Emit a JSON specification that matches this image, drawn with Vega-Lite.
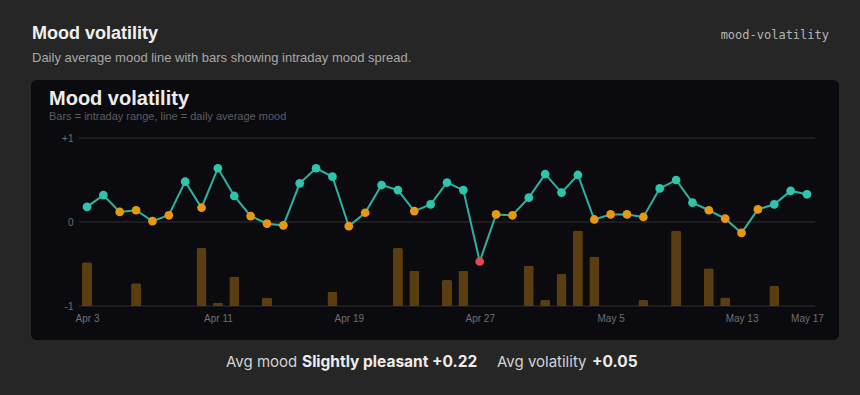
{
  "$schema": "https://vega.github.io/schema/vega-lite/v6.json",
  "width": 808,
  "height": 260,
  "autosize": {"type": "none"},
  "padding": {"left": 31, "top": 80, "right": 21, "bottom": 55},
  "background": "#262626",
  "config": {
    "view": {"fill": "#0b0b0f", "stroke": null, "cornerRadius": 6},
    "font": "Liberation Sans"
  },
  "datasets": {
    "days": [
      {"date": "2025-04-03", "mood": 0.18, "tone": "pleasant", "spread": 0.52},
      {"date": "2025-04-04", "mood": 0.32, "tone": "pleasant", "spread": null},
      {"date": "2025-04-05", "mood": 0.12, "tone": "neutral", "spread": null},
      {"date": "2025-04-06", "mood": 0.14, "tone": "neutral", "spread": 0.27},
      {"date": "2025-04-07", "mood": 0.01, "tone": "neutral", "spread": null},
      {"date": "2025-04-08", "mood": 0.08, "tone": "neutral", "spread": null},
      {"date": "2025-04-09", "mood": 0.48, "tone": "pleasant", "spread": null},
      {"date": "2025-04-10", "mood": 0.17, "tone": "neutral", "spread": 0.69},
      {"date": "2025-04-11", "mood": 0.64, "tone": "pleasant", "spread": 0.04},
      {"date": "2025-04-12", "mood": 0.31, "tone": "pleasant", "spread": 0.35},
      {"date": "2025-04-13", "mood": 0.07, "tone": "neutral", "spread": null},
      {"date": "2025-04-14", "mood": -0.02, "tone": "neutral", "spread": 0.10},
      {"date": "2025-04-15", "mood": -0.04, "tone": "neutral", "spread": null},
      {"date": "2025-04-16", "mood": 0.46, "tone": "pleasant", "spread": null},
      {"date": "2025-04-17", "mood": 0.64, "tone": "pleasant", "spread": null},
      {"date": "2025-04-18", "mood": 0.54, "tone": "pleasant", "spread": 0.17},
      {"date": "2025-04-19", "mood": -0.05, "tone": "neutral", "spread": null},
      {"date": "2025-04-20", "mood": 0.11, "tone": "neutral", "spread": null},
      {"date": "2025-04-21", "mood": 0.44, "tone": "pleasant", "spread": null},
      {"date": "2025-04-22", "mood": 0.38, "tone": "pleasant", "spread": 0.69},
      {"date": "2025-04-23", "mood": 0.13, "tone": "neutral", "spread": 0.42},
      {"date": "2025-04-24", "mood": 0.21, "tone": "pleasant", "spread": null},
      {"date": "2025-04-25", "mood": 0.47, "tone": "pleasant", "spread": 0.31},
      {"date": "2025-04-26", "mood": 0.38, "tone": "pleasant", "spread": 0.42},
      {"date": "2025-04-27", "mood": -0.47, "tone": "unpleasant", "spread": null},
      {"date": "2025-04-28", "mood": 0.09, "tone": "neutral", "spread": null},
      {"date": "2025-04-29", "mood": 0.08, "tone": "neutral", "spread": null},
      {"date": "2025-04-30", "mood": 0.29, "tone": "pleasant", "spread": 0.48},
      {"date": "2025-05-01", "mood": 0.57, "tone": "pleasant", "spread": 0.07},
      {"date": "2025-05-02", "mood": 0.35, "tone": "pleasant", "spread": 0.38},
      {"date": "2025-05-03", "mood": 0.56, "tone": "pleasant", "spread": 0.90},
      {"date": "2025-05-04", "mood": 0.03, "tone": "neutral", "spread": 0.59},
      {"date": "2025-05-05", "mood": 0.09, "tone": "neutral", "spread": null},
      {"date": "2025-05-06", "mood": 0.09, "tone": "neutral", "spread": null},
      {"date": "2025-05-07", "mood": 0.06, "tone": "neutral", "spread": 0.07},
      {"date": "2025-05-08", "mood": 0.40, "tone": "pleasant", "spread": null},
      {"date": "2025-05-09", "mood": 0.50, "tone": "pleasant", "spread": 0.90},
      {"date": "2025-05-10", "mood": 0.23, "tone": "pleasant", "spread": null},
      {"date": "2025-05-11", "mood": 0.14, "tone": "neutral", "spread": 0.45},
      {"date": "2025-05-12", "mood": 0.04, "tone": "neutral", "spread": 0.10},
      {"date": "2025-05-13", "mood": -0.13, "tone": "neutral", "spread": null},
      {"date": "2025-05-14", "mood": 0.15, "tone": "neutral", "spread": null},
      {"date": "2025-05-15", "mood": 0.21, "tone": "pleasant", "spread": 0.24},
      {"date": "2025-05-16", "mood": 0.37, "tone": "pleasant", "spread": null},
      {"date": "2025-05-17", "mood": 0.33, "tone": "pleasant", "spread": null}
    ]
  },
  "data": {"name": "days"},
  "resolve": {"scale": {"y": "independent"}},
  "layer": [
    {
      "data": {"values": [{"g": -1}, {"g": 0}, {"g": 1}]},
      "mark": {"type": "rule", "color": "#232328", "strokeWidth": 1.5},
      "encoding": {
        "y": {"field": "g", "type": "quantitative", "scale": {"domain": [-1, 1], "range": [226, 58]}, "axis": null},
        "x": {"datum": {"year": 2025, "month": 4, "date": 2, "hours": 12, "utc": true}, "type": "temporal"},
        "x2": {"datum": {"year": 2025, "month": 5, "date": 17, "hours": 12, "utc": true}}
      }
    },
    {
      "mark": {"type": "bar", "size": 10, "color": "#5b3e10", "cornerRadiusTopLeft": 2, "cornerRadiusTopRight": 2},
      "encoding": {
        "x": {"field": "date", "type": "temporal"},
        "y": {"field": "spread", "type": "quantitative", "scale": {"domain": [0, 2], "range": [226, 58]}, "axis": null}
      }
    },
    {
      "mark": {"type": "line", "color": "#2bb3a0", "strokeWidth": 2},
      "encoding": {
        "x": {
          "field": "date",
          "type": "temporal",
          "scale": {
            "type": "utc",
            "padding": 0,
            "domain": [
              {"year": 2025, "month": 4, "date": 3, "utc": true},
              {"year": 2025, "month": 5, "date": 17, "utc": true}
            ],
            "range": [56, 776]
          },
          "axis": {
            "title": null,
            "values": [
              {"year": 2025, "month": 4, "date": 3, "utc": true},
              {"year": 2025, "month": 4, "date": 11, "utc": true},
              {"year": 2025, "month": 4, "date": 19, "utc": true},
              {"year": 2025, "month": 4, "date": 27, "utc": true},
              {"year": 2025, "month": 5, "date": 5, "utc": true},
              {"year": 2025, "month": 5, "date": 13, "utc": true},
              {"year": 2025, "month": 5, "date": 17, "utc": true}
            ],
            "labelExpr": "utcFormat(datum.value, '%b %-d')",
            "domain": false,
            "ticks": false,
            "grid": false,
            "labelColor": "#6e6e74",
            "labelFontSize": 10,
            "labelPadding": 7,
            "labelFlush": false,
            "labelOverlap": false,
            "offset": -34
          }
        },
        "y": {
          "field": "mood",
          "type": "quantitative",
          "scale": {"domain": [-1, 1], "range": [226, 58]},
          "axis": {
            "title": null,
            "values": [-1, 0, 1],
            "labelExpr": "datum.value > 0 ? '+' + datum.value : '' + datum.value",
            "domain": false,
            "ticks": false,
            "grid": false,
            "labelColor": "#6e6e74",
            "labelFontSize": 10,
            "labelPadding": 3,
            "offset": -45
          }
        }
      }
    },
    {
      "mark": {"type": "point", "filled": true, "size": 76, "opacity": 1},
      "encoding": {
        "x": {"field": "date", "type": "temporal"},
        "y": {"field": "mood", "type": "quantitative", "scale": {"domain": [-1, 1], "range": [226, 58]}, "axis": null},
        "color": {
          "field": "tone",
          "type": "nominal",
          "scale": {"domain": ["pleasant", "neutral", "unpleasant"], "range": ["#2ec4ad", "#e8980f", "#e5484d"]},
          "legend": null
        }
      }
    },
    {
      "data": {"values": [{}]},
      "mark": {"type": "text", "text": "Mood volatility", "font": "Liberation Sans", "fontSize": 18, "fontWeight": "bold", "color": "#f0f0f0", "align": "left", "baseline": "alphabetic"},
      "encoding": {"x": {"value": 1}, "y": {"value": -41}}
    },
    {
      "data": {"values": [{}]},
      "mark": {"type": "text", "text": "Daily average mood line with bars showing intraday mood spread.", "font": "Liberation Sans", "fontSize": 13, "color": "#a8a8a8", "align": "left", "baseline": "alphabetic"},
      "encoding": {"x": {"value": 1}, "y": {"value": -18}}
    },
    {
      "data": {"values": [{}]},
      "mark": {"type": "text", "text": "mood-volatility", "font": "DejaVu Sans Mono", "fontSize": 12, "color": "#b5b5b5", "align": "right", "baseline": "alphabetic"},
      "encoding": {"x": {"value": 798}, "y": {"value": -41}}
    },
    {
      "data": {"values": [{}]},
      "mark": {"type": "text", "text": "Mood volatility", "font": "Liberation Sans", "fontSize": 20, "fontWeight": "bold", "color": "#ececec", "align": "left", "baseline": "alphabetic"},
      "encoding": {"x": {"value": 18}, "y": {"value": 25}}
    },
    {
      "data": {"values": [{}]},
      "mark": {"type": "text", "text": "Bars = intraday range, line = daily average mood", "font": "Liberation Sans", "fontSize": 11, "color": "#5c5c62", "align": "left", "baseline": "alphabetic"},
      "encoding": {"x": {"value": 18}, "y": {"value": 40}}
    },
    {
      "data": {"values": [{}]},
      "mark": {"type": "text", "text": "Avg mood", "font": "Inter", "fontSize": 15, "color": "#d2d2d2", "align": "left", "baseline": "alphabetic"},
      "encoding": {"x": {"value": 195}, "y": {"value": 287}}
    },
    {
      "data": {"values": [{}]},
      "mark": {"type": "text", "text": "Slightly pleasant +0.22", "font": "Inter", "fontSize": 15.5, "fontWeight": "bold", "color": "#ececec", "align": "left", "baseline": "alphabetic"},
      "encoding": {"x": {"value": 271}, "y": {"value": 287}}
    },
    {
      "data": {"values": [{}]},
      "mark": {"type": "text", "text": "Avg volatility", "font": "Inter", "fontSize": 15, "color": "#d2d2d2", "align": "left", "baseline": "alphabetic"},
      "encoding": {"x": {"value": 466}, "y": {"value": 287}}
    },
    {
      "data": {"values": [{}]},
      "mark": {"type": "text", "text": "+0.05", "font": "Inter", "fontSize": 15.5, "fontWeight": "bold", "color": "#ececec", "align": "left", "baseline": "alphabetic"},
      "encoding": {"x": {"value": 561}, "y": {"value": 287}}
    }
  ]
}
